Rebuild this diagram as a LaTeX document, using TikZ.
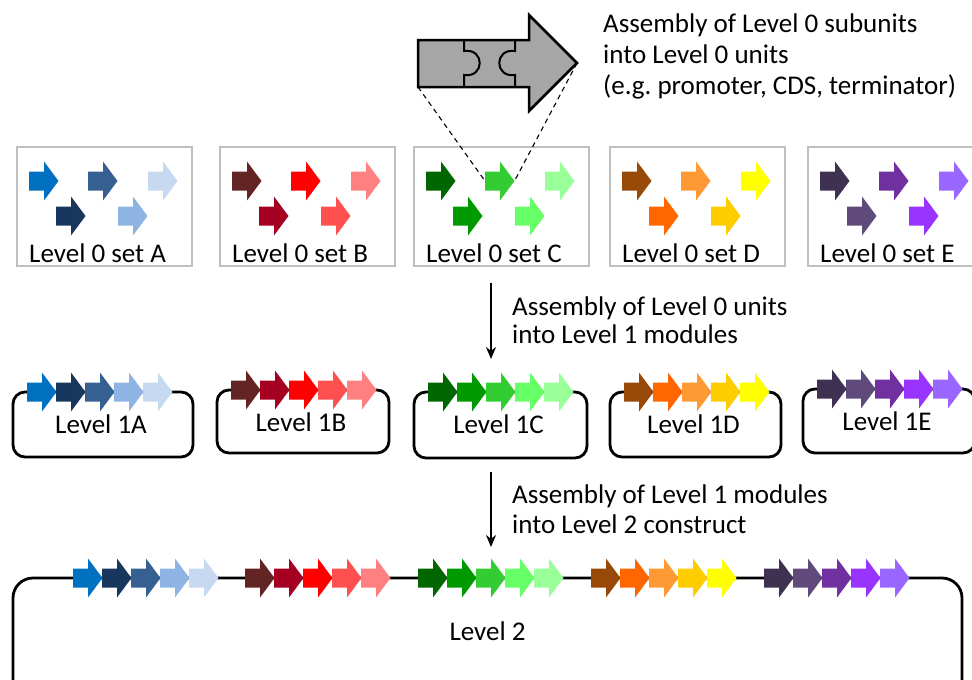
\documentclass[tikz,border=0pt]{standalone}
\usepackage{fontspec}
\setmainfont{Carlito}
\usetikzlibrary{arrows.meta,calc}
\frenchspacing

% unit colours, in assembly order 1..5 for each set
\definecolor{A1}{HTML}{0070C0}\definecolor{A2}{HTML}{17375E}\definecolor{A3}{HTML}{366092}
\definecolor{A4}{HTML}{8DB4E2}\definecolor{A5}{HTML}{C6D9F1}
\definecolor{B1}{HTML}{632523}\definecolor{B2}{HTML}{A50021}\definecolor{B3}{HTML}{FF0000}
\definecolor{B4}{HTML}{FF5050}\definecolor{B5}{HTML}{FF8080}
\definecolor{C1}{HTML}{006600}\definecolor{C2}{HTML}{009900}\definecolor{C3}{HTML}{33CC33}
\definecolor{C4}{HTML}{66FF66}\definecolor{C5}{HTML}{99FF99}
\definecolor{D1}{HTML}{984807}\definecolor{D2}{HTML}{FF6600}\definecolor{D3}{HTML}{FF9933}
\definecolor{D4}{HTML}{FFCC00}\definecolor{D5}{HTML}{FFFF00}
\definecolor{E1}{HTML}{3F3151}\definecolor{E2}{HTML}{604A7B}\definecolor{E3}{HTML}{7030A0}
\definecolor{E4}{HTML}{9933FF}\definecolor{E5}{HTML}{9966FF}
\definecolor{boxgray}{HTML}{BFBFBF}
\definecolor{puzzlegray}{HTML}{A6A6A6}

\tikzset{
  pics/unit/.style={code={
    \fill[#1] (0,-9.5) -- (15,-9.5) -- (15,-19.5) -- (29.5,0) -- (15,19.5)
      -- (15,9.5) -- (0,9.5) -- cycle;
    \coordinate (-tail) at (0,0);
    \coordinate (-tip) at (29.5,0);
  }},
  setbox/.style={draw=boxgray, line width=2.5pt, minimum width=175pt,
    minimum height=119pt, inner sep=0pt},
  modbox/.style={draw=black, line width=2.8pt, rounded corners=12pt, inner sep=0pt},
  lbl/.style={font=\fontsize{27}{31}\selectfont, inner sep=0pt},
  downarrow/.style={line width=1.8pt, -{Stealth[length=12pt,width=10pt]}},
  zoomline/.style={line width=1.1pt, dash pattern=on 5pt off 4pt},
  puzzle/.style={fill=puzzlegray, draw=black, line width=2.5pt, line join=miter},
}

% a Level 0 set: #1 letter, #2 left edge
\newcommand\unitset[2]{%
  \node[setbox] (set#1) at ({#2+87.5},206.5) {};
  \node[lbl, anchor=base west] (set#1-label) at ({#2+12},262) {Level 0 set #1};
  \pic (set#1-u1) at ({#2+12},181) {unit=#11};
  \pic (set#1-u3) at ({#2+71},181) {unit=#13};
  \pic (set#1-u5) at ({#2+131},181) {unit=#15};
  \pic (set#1-u2) at ({#2+39},216) {unit=#12};
  \pic (set#1-u4) at ({#2+101},216) {unit=#14};
}

% a Level 1 module: #1 letter, #2 left, #3 top, #4 bottom, #5 width
\newcommand\moduleset[5]{%
  \node[modbox, minimum width=#5pt, minimum height={#4-#3}] (mod#1)
    at ({#2+#5/2},{(#3+#4)/2}) {};
  \node[lbl, anchor=base] (mod#1-label) at ({#2+#5/2-2},{#3+41}) {Level 1#1};
  \foreach \k in {1,...,5}
    \pic (mod#1-u\k) at ({#2+14+29*(\k-1)},#3) {unit=#1\k};
}

\begin{document}
\begin{tikzpicture}[x=1pt,y=-1pt]
\useasboundingbox (0,0) rectangle (972,680);
\clip (0,0) rectangle (972,680);

% puzzle-piece unit made of three subunits
\draw[puzzle] (418,40) -- (529,40) -- (529,15) -- (577,63) -- (529,111)
  -- (529,87) -- (418,87) -- cycle;
\draw[line width=2pt] (464,40) -- (464,51) .. controls (485,48) and (485,78) .. (464,75) -- (464,87);
\draw[line width=2pt] (515,40) -- (515,51) .. controls (494,48) and (494,78) .. (515,75) -- (515,87);
\coordinate (pz-sw) at (418,87);
\coordinate (pz-tip) at (577,63);

\node[lbl, align=left, anchor=base west] (note0) at (603,94)
  {Assembly of Level 0 subunits\\into Level 0 units\\(e.g. promoter, CDS, terminator)};

% Level 0 sets
\unitset{A}{17}
\unitset{B}{220}
\unitset{C}{414}
\unitset{D}{610}
\unitset{E}{808}

\draw[zoomline] (pz-sw) -- (setC-u3-tail);
\draw[zoomline] (pz-tip) -- (setC-u3-tip);

% Level 0 -> Level 1
\coordinate (down1-s) at (491,283);
\coordinate (down1-e) at (491,359);
\draw[downarrow] (down1-s) -- (down1-e);
\node[lbl, align=left, anchor=base west, font=\fontsize{27}{28}\selectfont] (note1) at (512,343)
  {Assembly of Level 0 units\\into Level 1 modules};

% Level 1 modules
\moduleset{A}{13}{392}{457}{180}
\moduleset{B}{217}{390}{453}{172}
\moduleset{C}{414}{392}{458}{173}
\moduleset{D}{610}{392}{457}{171}
\moduleset{E}{803}{389}{453}{172}

% Level 1 -> Level 2
\coordinate (down2-s) at (491,472);
\coordinate (down2-e) at (491,547);
\draw[downarrow] (down2-s) -- (down2-e);
\node[lbl, align=left, anchor=base west, font=\fontsize{27}{30}\selectfont] (note2) at (512,533)
  {Assembly of Level 1 modules\\into Level 2 construct};

% Level 2 construct
\node[modbox, rounded corners=20pt, minimum width=949pt, minimum height=142pt] (construct)
  at (487.5,649) {};
\node[lbl, anchor=base] (construct-label) at (487.5,640) {Level 2};
\foreach \g/\x in {A/73,B/245,C/418,D/591,E/764}
  \foreach \k in {1,...,5}
    \pic (lvl2\g\k) at ({\x+29*(\k-1)},578) {unit=\g\k};
\end{tikzpicture}
\end{document}
